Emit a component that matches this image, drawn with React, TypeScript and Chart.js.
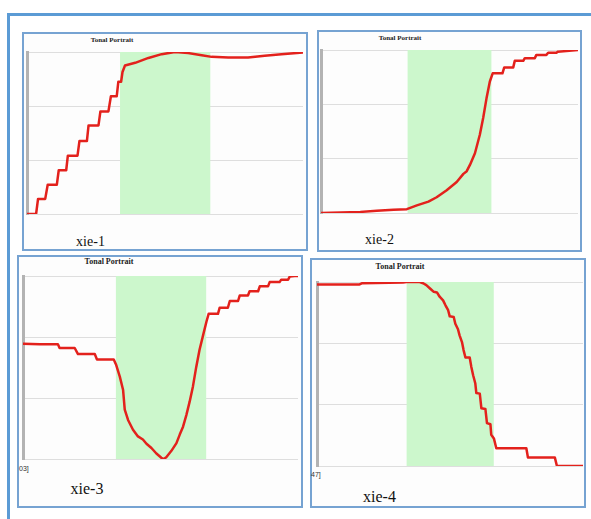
import React, { useEffect, useRef } from "react";
import { Chart, registerables } from "chart.js";

Chart.register(...registerables);

// ---- data ----
const chartTitle = "Tonal Portrait";
const panelLabels = ["xie-1", "xie-2", "xie-3", "xie-4"];
const cornerLabels = ["", "", "03]", "47]"];
const yMin = 0;
const yMax = 3;
const yStep = 1;
const xMin = 0;
const xMax = 100;

const p1X = [0, 3.3, 4.0, 6.6, 7.5, 10.8, 11.5, 14.2, 14.8, 18.3, 19.0, 21.7, 22.3, 25.9, 26.6, 29.5, 30.4, 32.5, 33.1, 34.1, 34.6, 35.5, 39.2, 44.0, 48.8, 53.6, 58.4, 63.3, 66.9, 72.9, 80.1, 86.1, 92.2, 100];
const p1Y = [0, 0, 0.28, 0.28, 0.54, 0.54, 0.81, 0.81, 1.08, 1.08, 1.35, 1.35, 1.64, 1.64, 1.9, 1.9, 2.18, 2.18, 2.45, 2.45, 2.63, 2.75, 2.8, 2.89, 2.96, 3.0, 2.98, 2.94, 2.91, 2.9, 2.9, 2.93, 2.96, 2.99];
const p1Band = [33.7, 66.5];

const p2X = [0, 15.3, 21.7, 28.2, 33.4, 37.3, 41.8, 45.0, 48.9, 52.8, 55.4, 56.7, 58.0, 59.9, 61.8, 63.1, 64.4, 65.7, 66.8, 70.6, 71.3, 74.8, 75.4, 78.7, 79.3, 83.2, 83.8, 87.7, 88.4, 91.6, 92.2, 95.5, 100];
const p2Y = [0, 0.02, 0.04, 0.06, 0.07, 0.14, 0.21, 0.29, 0.42, 0.57, 0.72, 0.77, 0.89, 1.1, 1.44, 1.75, 2.11, 2.42, 2.57, 2.57, 2.68, 2.68, 2.8, 2.8, 2.85, 2.85, 2.91, 2.91, 2.95, 2.95, 2.97, 2.98, 3.0];
const p2Band = [33.6, 66.4];

const p3X = [0, 6.1, 6.7, 12.7, 13.3, 18.8, 20.0, 26.1, 26.9, 33.0, 33.9, 35.2, 36.4, 37.0, 38.2, 40.0, 41.8, 43.6, 44.9, 46.7, 48.5, 50.3, 51.2, 52.1, 53.9, 55.8, 57.0, 58.2, 59.4, 60.6, 61.8, 63.0, 64.2, 65.5, 66.7, 67.5, 70.9, 71.5, 74.5, 75.2, 78.2, 78.8, 81.8, 82.4, 85.5, 86.1, 89.1, 89.7, 93.3, 93.9, 96.4, 97.0, 98.8, 100];
const p3Y = [1.89, 1.88, 1.88, 1.88, 1.82, 1.82, 1.72, 1.72, 1.63, 1.63, 1.54, 1.35, 1.13, 0.81, 0.64, 0.48, 0.37, 0.32, 0.25, 0.18, 0.09, 0.02, 0, 0.03, 0.13, 0.26, 0.4, 0.53, 0.72, 0.94, 1.19, 1.51, 1.79, 2.03, 2.25, 2.38, 2.38, 2.48, 2.48, 2.59, 2.59, 2.68, 2.68, 2.75, 2.75, 2.83, 2.83, 2.9, 2.9, 2.94, 2.94, 2.99, 3.0, 3.0];
const p3Band = [33.7, 66.7];

const p4X = [0, 16.0, 17.0, 32.3, 33.6, 36.7, 38.6, 39.9, 41.1, 42.6, 43.9, 45.1, 46.1, 47.4, 48.3, 49.3, 49.9, 51.4, 52.0, 53.0, 53.6, 54.5, 55.1, 55.8, 57.4, 58.0, 58.7, 59.5, 59.9, 61.2, 61.8, 63.3, 63.9, 65.2, 65.5, 66.5, 67.4, 78.7, 79.3, 89.4, 90.2, 100];
const p4Y = [2.96, 2.96, 2.98, 2.99, 3.0, 3.0, 3.0, 2.98, 2.95, 2.89, 2.84, 2.83, 2.76, 2.7, 2.62, 2.54, 2.44, 2.43, 2.32, 2.23, 2.13, 2.02, 1.89, 1.77, 1.77, 1.62, 1.48, 1.35, 1.19, 1.18, 0.94, 0.93, 0.7, 0.68, 0.51, 0.45, 0.29, 0.29, 0.14, 0.14, 0, 0];
const p4Band = [33.6, 66.5];

// ---- styles ----
const RED = "#e3211c";
const GREEN = "#ccf7cc";
const PANEL_BORDER = "#76a3d2";
const FRAME = "#5b9bd5";
const PAD = 4;

type Rect = { left: number; top: number; width: number; height: number };

function ToneChart(props: { xs: number[]; ys: number[]; band: number[]; plot: Rect }) {
  const ref = useRef<HTMLCanvasElement>(null);
  const { xs, ys, band, plot } = props;
  const w = plot.width + PAD * 2;
  const h = plot.height + PAD * 2;
  useEffect(() => {
    const chart = new Chart(ref.current as HTMLCanvasElement, {
      type: "line",
      data: {
        datasets: [
          {
            data: xs.map((x, i) => ({ x, y: ys[i] })),
            borderColor: RED,
            borderWidth: 2.5,
            pointRadius: 0,
            tension: 0,
            fill: false,
            borderJoinStyle: "round",
            borderCapStyle: "round",
          },
          {
            data: [
              { x: band[0], y: yMax },
              { x: band[1], y: yMax },
            ],
            borderWidth: 0,
            borderColor: "rgba(0,0,0,0)",
            backgroundColor: GREEN,
            fill: "start",
            pointRadius: 0,
          },
        ],
      },
      options: {
        animation: false,
        responsive: false,
        maintainAspectRatio: false,
        layout: { padding: PAD },
        plugins: {
          legend: { display: false },
          tooltip: { enabled: false },
          title: { display: false },
        },
        scales: {
          x: { type: "linear", min: xMin, max: xMax, display: false },
          y: {
            type: "linear",
            min: yMin,
            max: yMax,
            ticks: { display: false, stepSize: yStep },
            grid: { color: "#dedede", lineWidth: 1, drawTicks: false },
            border: { color: "#b3b3b3", width: 3 },
          },
        },
      },
    } as any);
    return () => chart.destroy();
  }, []);
  return (
    <canvas
      ref={ref}
      width={w}
      height={h}
      style={{ position: "absolute", left: plot.left - PAD, top: plot.top - PAD, width: w, height: h }}
    />
  );
}

const panels = [
  { box: { left: 22, top: 32, width: 286, height: 219 }, plot: { left: 27, top: 52, width: 276, height: 162 }, xs: p1X, ys: p1Y, band: p1Band, title: { cx: 112, cy: 40, size: 7 }, label: { cx: 90.5, cy: 242, size: 14 }, corner: null as any },
  { box: { left: 317, top: 30, width: 265, height: 222 }, plot: { left: 321, top: 50, width: 257, height: 163 }, xs: p2X, ys: p2Y, band: p2Band, title: { cx: 400, cy: 38, size: 7 }, label: { cx: 379.5, cy: 240, size: 14 }, corner: null as any },
  { box: { left: 17, top: 255, width: 286, height: 253 }, plot: { left: 23, top: 276, width: 275, height: 183 }, xs: p3X, ys: p3Y, band: p3Band, title: { cx: 109, cy: 262, size: 8 }, label: { cx: 87, cy: 489, size: 16 }, corner: { x: 19, cy: 468 } },
  { box: { left: 310, top: 258, width: 276, height: 250 }, plot: { left: 317, top: 282, width: 266, height: 184 }, xs: p4X, ys: p4Y, band: p4Band, title: { cx: 400, cy: 267, size: 8 }, label: { cx: 379.5, cy: 497, size: 16 }, corner: { x: 311, cy: 474 } },
];

export default function App() {
  return (
    <div style={{ position: "absolute", left: 0, top: 0, width: 591, height: 519, overflow: "hidden", background: "#fff" }}>
      <div style={{ position: "absolute", left: 7, top: 13, width: 700, height: 700, borderTop: `3px solid ${FRAME}`, borderLeft: `3px solid ${FRAME}` }} />
      {panels.map((p, i) => (
        <React.Fragment key={i}>
          <div
            style={{
              position: "absolute",
              left: p.box.left,
              top: p.box.top,
              width: p.box.width,
              height: p.box.height,
              boxSizing: "border-box",
              border: `2px solid ${PANEL_BORDER}`,
              background: "#fdfdfd",
            }}
          />
          <ToneChart xs={p.xs} ys={p.ys} band={p.band} plot={p.plot} />
          <div
            style={{
              position: "absolute",
              left: p.title.cx - 60,
              width: 120,
              top: p.title.cy - p.title.size / 2,
              lineHeight: 1,
              fontSize: p.title.size,
              fontWeight: "bold",
              fontFamily: "'Liberation Serif', serif",
              textAlign: "center",
              color: "#222",
              whiteSpace: "nowrap",
            }}
          >
            {chartTitle}
          </div>
          <div
            style={{
              position: "absolute",
              left: p.label.cx - 50,
              width: 100,
              top: p.label.cy - p.label.size / 2,
              lineHeight: 1,
              fontSize: p.label.size,
              fontFamily: "'Liberation Serif', serif",
              textAlign: "center",
              color: "#111",
            }}
          >
            {panelLabels[i]}
          </div>
          {p.corner && (
            <div
              style={{
                position: "absolute",
                left: p.corner.x,
                top: p.corner.cy - 3.5,
                lineHeight: 1,
                fontSize: 7,
                fontFamily: "'Liberation Sans', sans-serif",
                color: "#333",
              }}
            >
              {cornerLabels[i]}
            </div>
          )}
        </React.Fragment>
      ))}
    </div>
  );
}
